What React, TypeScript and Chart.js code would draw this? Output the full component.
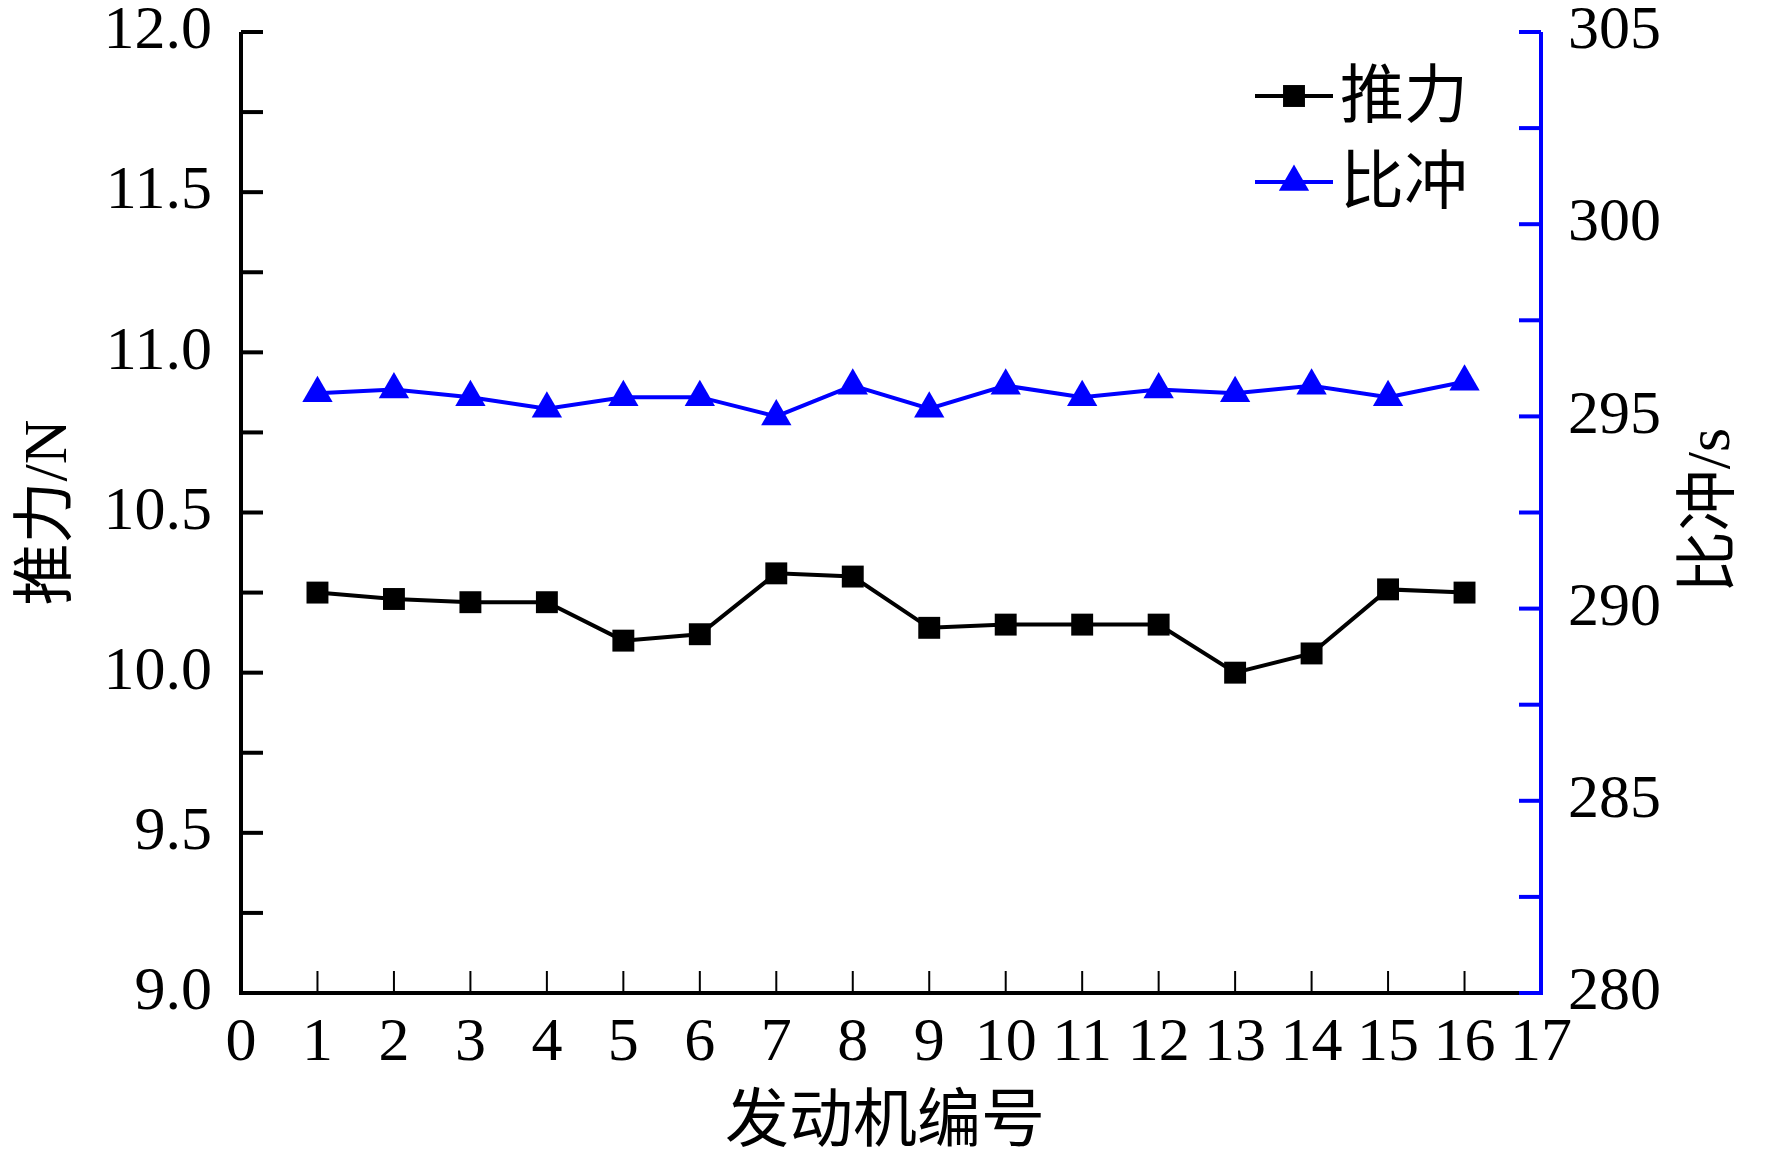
import React, { useEffect, useRef } from "react";
import Chart from "chart.js/auto";

// engine number on x, thrust (N) on left axis, specific impulse (s) on right axis
const engineIds = [1, 2, 3, 4, 5, 6, 7, 8, 9, 10, 11, 12, 13, 14, 15, 16];
const thrustN = [10.25, 10.23, 10.22, 10.22, 10.1, 10.12, 10.31, 10.3, 10.14, 10.15, 10.15, 10.15, 10.0, 10.06, 10.26, 10.25];
const impulseS = [295.6, 295.7, 295.5, 295.2, 295.5, 295.5, 295.0, 295.8, 295.2, 295.8, 295.5, 295.7, 295.6, 295.8, 295.5, 295.9];

const seriesNames = ["推力", "比冲"];
const xTitle = "发动机编号";
const yTitle = "推力/N";
const y1Title = "比冲/s";

const SERIF = '"Liberation Serif", "Noto Sans CJK SC", serif';
const BLUE = "#0000ff";
const W = 1772;
const H = 1161;

function seg(ctx: CanvasRenderingContext2D, x1: number, y1: number, x2: number, y2: number) {
  ctx.beginPath();
  ctx.moveTo(x1, y1);
  ctx.lineTo(x2, y2);
  ctx.stroke();
}

// same geometry chart.js uses for 'rect' and 'triangle'
function marker(ctx: CanvasRenderingContext2D, style: string, r: number, x: number, y: number) {
  ctx.beginPath();
  if (style === "rect") {
    const s = Math.SQRT1_2 * r;
    ctx.rect(x - s, y - s, 2 * s, 2 * s);
  } else {
    let rad = 0;
    ctx.moveTo(x + Math.sin(rad) * r, y - Math.cos(rad) * r);
    rad += (2 * Math.PI) / 3;
    ctx.lineTo(x + Math.sin(rad) * r, y - Math.cos(rad) * r);
    rad += (2 * Math.PI) / 3;
    ctx.lineTo(x + Math.sin(rad) * r, y - Math.cos(rad) * r);
    ctx.closePath();
  }
  ctx.fill();
}

const decorPlugin = {
  id: "decor",
  afterDatasetsDraw(chart: any) {
    const { ctx, chartArea: a, scales } = chart;
    const tl = 22;
    ctx.save();
    ctx.lineCap = "butt";

    // inward ticks, left axis
    ctx.strokeStyle = "#000";
    ctx.lineWidth = 4;
    scales.y.ticks.forEach((t: any) => {
      const py = scales.y.getPixelForValue(t.value);
      seg(ctx, a.left, py, a.left + tl, py);
    });

    // inward ticks, bottom axis
    ctx.lineWidth = 2;
    scales.x.ticks.forEach((t: any) => {
      const px = scales.x.getPixelForValue(t.value);
      seg(ctx, px, a.bottom, px, a.bottom - tl);
    });

    // axis lines
    ctx.lineWidth = 4;
    seg(ctx, a.left, a.top, a.left, a.bottom + 2);
    seg(ctx, a.left - 2, a.bottom, a.right, a.bottom);

    // right axis in blue
    ctx.strokeStyle = BLUE;
    scales.y1.ticks.forEach((t: any) => {
      const py = scales.y1.getPixelForValue(t.value);
      seg(ctx, a.right - tl, py, a.right, py);
    });
    seg(ctx, a.right, a.top, a.right, a.bottom + 2);
    ctx.restore();
  },
  afterDraw(chart: any) {
    const { ctx, chartArea: a } = chart;
    ctx.save();
    ctx.fillStyle = "#000";

    // axis titles
    ctx.font = `64px ${SERIF}`;
    ctx.textAlign = "center";
    ctx.textBaseline = "middle";
    ctx.fillText(xTitle, (a.left + a.right) / 2 - 6, 1124);

    ctx.font = `62px ${SERIF}`;
    ctx.save();
    ctx.translate(50, (a.top + a.bottom) / 2);
    ctx.rotate(-Math.PI / 2);
    ctx.fillText(yTitle, 0, 0);
    ctx.restore();

    ctx.save();
    ctx.translate(1713, (a.top + a.bottom) / 2 - 2);
    ctx.rotate(-Math.PI / 2);
    ctx.fillText(y1Title, 0, 0);
    ctx.restore();

    // legend
    const rows = [
      { y: 96, color: "#000", style: "rect", r: 15.5 },
      { y: 182, color: BLUE, style: "triangle", r: 17.5 },
    ];
    rows.forEach((row, i) => {
      ctx.strokeStyle = row.color;
      ctx.fillStyle = row.color;
      ctx.lineWidth = 4;
      seg(ctx, 1255, row.y, 1333, row.y);
      marker(ctx, row.style, row.r, 1294, row.y);
      ctx.fillStyle = "#000";
      ctx.font = `64px ${SERIF}`;
      ctx.textAlign = "left";
      ctx.textBaseline = "middle";
      ctx.fillText(seriesNames[i], 1340, row.y + 4);
    });
    ctx.restore();
  },
};

export default function App() {
  const canvasRef = useRef<HTMLCanvasElement | null>(null);

  useEffect(() => {
    document.body.style.margin = "0";
    if (!canvasRef.current) return;

    const tickFont = { family: SERIF, size: 62, lineHeight: 1 };

    const chart = new Chart(canvasRef.current, {
      type: "line",
      data: {
        datasets: [
          {
            label: seriesNames[0],
            data: engineIds.map((id, i) => ({ x: id, y: thrustN[i] })),
            yAxisID: "y",
            borderColor: "#000",
            backgroundColor: "#000",
            borderWidth: 4,
            pointStyle: "rect",
            pointRadius: 15.5,
            pointBorderWidth: 0,
          },
          {
            label: seriesNames[1],
            data: engineIds.map((id, i) => ({ x: id, y: impulseS[i] })),
            yAxisID: "y1",
            borderColor: BLUE,
            backgroundColor: BLUE,
            borderWidth: 4,
            pointStyle: "triangle",
            pointRadius: 17.5,
            pointBorderWidth: 0,
          },
        ],
      },
      options: {
        responsive: false,
        animation: false,
        devicePixelRatio: 1,
        layout: { padding: { top: 32, left: 0, right: 0, bottom: 0 } },
        plugins: {
          legend: { display: false },
          tooltip: { enabled: false },
        },
        scales: {
          x: {
            type: "linear",
            min: 0,
            max: 17,
            grid: { display: false, drawTicks: false },
            border: { display: false },
            ticks: { stepSize: 1, padding: 20, color: "#000", font: tickFont, maxRotation: 0, autoSkip: false },
            afterFit: (s: any) => {
              s.height = 168;
              s.paddingLeft = 0;
              s.paddingRight = 0;
            },
          },
          y: {
            position: "left",
            min: 9,
            max: 12,
            grid: { display: false, drawTicks: false },
            border: { display: false },
            ticks: {
              stepSize: 0.25,
              padding: 29,
              color: "#000",
              font: tickFont,
              callback: (v: any) => (Math.abs(v * 2 - Math.round(v * 2)) < 1e-6 ? Number(v).toFixed(1) : ""),
            },
            afterFit: (s: any) => {
              s.width = 241;
              s.paddingTop = 0;
              s.paddingBottom = 0;
            },
          },
          y1: {
            position: "right",
            min: 280,
            max: 305,
            grid: { display: false, drawTicks: false },
            border: { display: false },
            ticks: {
              stepSize: 2.5,
              padding: 27,
              color: "#000",
              font: tickFont,
              callback: (v: any) => (Math.abs(v / 5 - Math.round(v / 5)) < 1e-6 ? String(v) : ""),
            },
            afterFit: (s: any) => {
              s.width = W - 1541;
              s.paddingTop = 0;
              s.paddingBottom = 0;
            },
          },
        },
      },
      plugins: [decorPlugin],
    });

    return () => {
      chart.destroy();
    };
  }, []);

  return (
    <div style={{ width: W, height: H, background: "#fff" }}>
      <canvas ref={canvasRef} width={W} height={H} style={{ width: W, height: H, display: "block" }} />
    </div>
  );
}
